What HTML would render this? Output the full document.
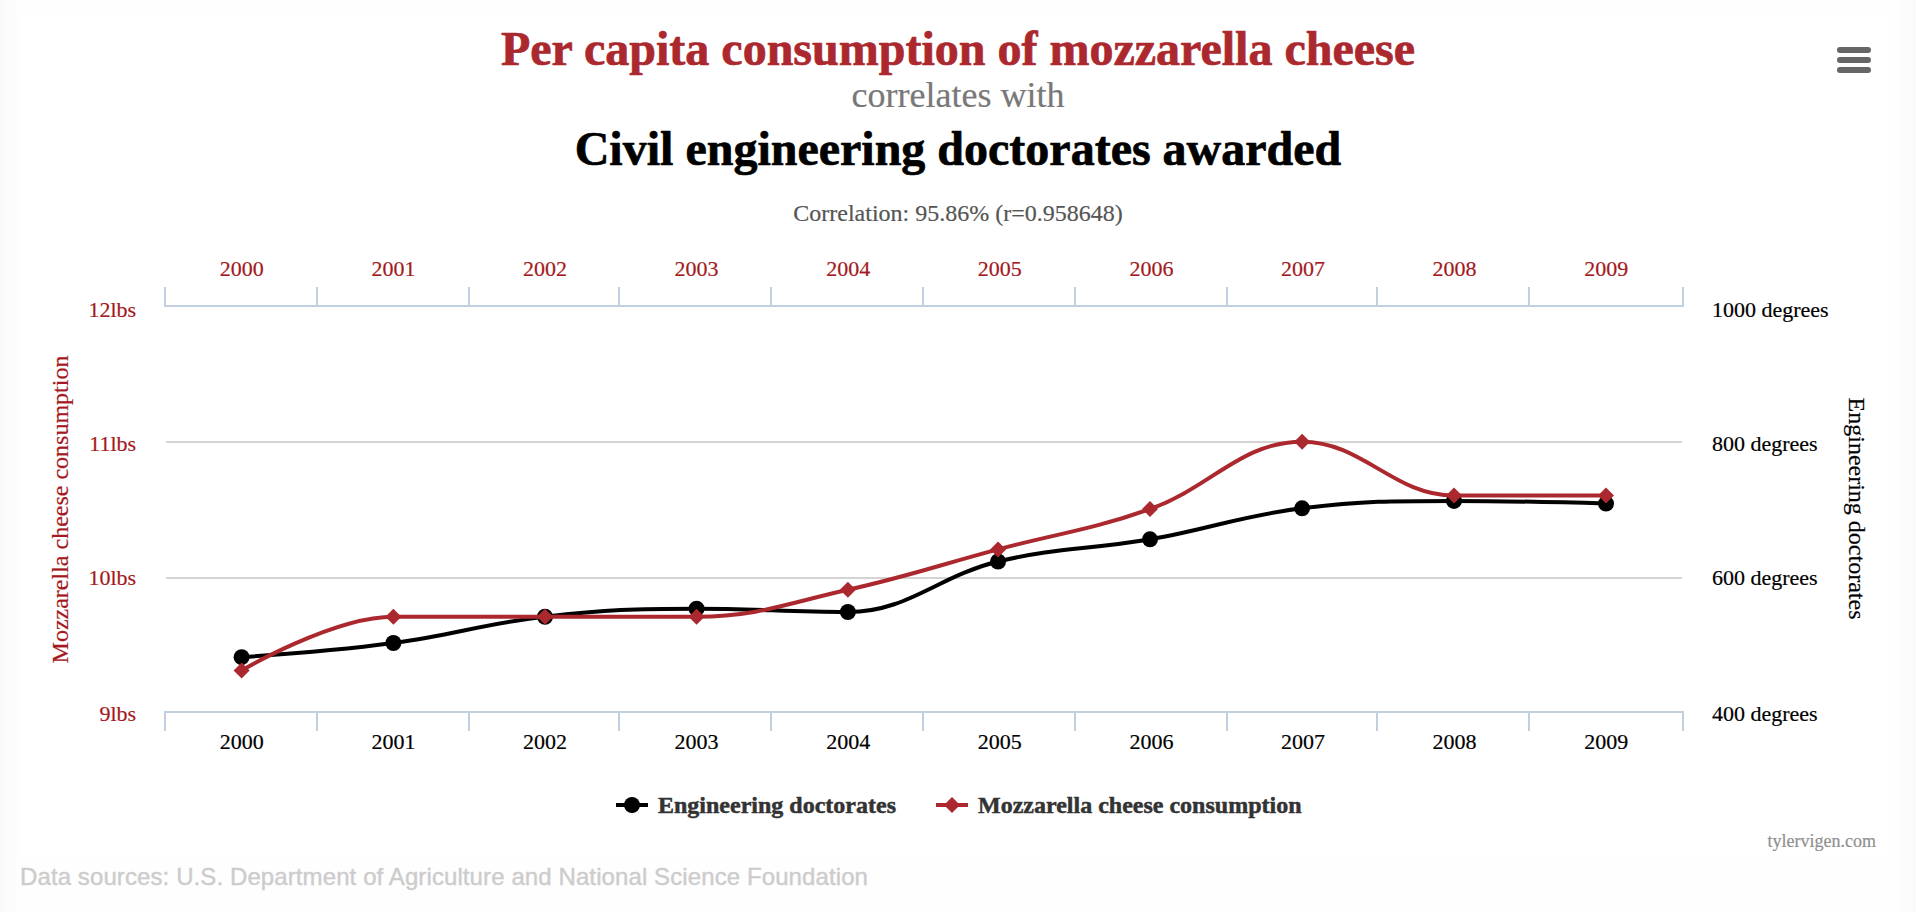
<!DOCTYPE html>
<html lang="en"><head><meta charset="utf-8"><title>Per capita consumption of mozzarella cheese correlates with Civil engineering doctorates awarded</title>
<style>
html,body{margin:0;padding:0;background:#fefefe;}
body{width:1916px;height:912px;overflow:hidden;position:relative;}
svg{position:absolute;left:0;top:0;display:block;}
text{font-family:"Liberation Serif","Times New Roman",Times,serif;stroke-linejoin:round;}
.b{stroke-width:0.7px;}
.b2{stroke-width:0.5px;}
text,g{stroke-width:0.2px;}
.sans{font-family:"Liberation Sans",Arial,Helvetica,sans-serif;stroke-width:0.4px;}
</style></head><body>
<svg width="1916" height="912" viewBox="0 0 1916 912">
<rect x="0" y="0" width="1916" height="912" fill="#FEFEFE"/>
<rect x="0" y="0" width="15" height="912" fill="#FCFCFC"/>
<rect x="0" y="0" width="4" height="912" fill="#FAFAFA"/>
<rect x="1901" y="0" width="15" height="912" fill="#FCFCFC"/>
<rect x="1912" y="0" width="4" height="912" fill="#FAFAFA"/>
<rect x="20" y="16.5" width="1873" height="840.5" fill="#FFFFFF"/>
<text x="958" y="65" text-anchor="middle" class="b" font-size="48" font-weight="bold" fill="#AB282E" stroke="#AB282E">Per capita consumption of mozzarella cheese</text>
<text x="958" y="107" text-anchor="middle" font-size="36" fill="#787878" stroke="#787878">correlates with</text>
<text x="958" y="165" text-anchor="middle" class="b" font-size="48" font-weight="bold" fill="#000000" stroke="#000000">Civil engineering doctorates awarded</text>
<text x="958" y="220.5" text-anchor="middle" font-size="24" fill="#555555" stroke="#555555">Correlation: 95.86% (r=0.958648)</text>
<g fill="#D4D4D4">
<rect x="166" y="441" width="1516" height="2"/>
<rect x="166" y="577" width="1516" height="2"/>
</g>
<g fill="#C0D0E0">
<rect x="164" y="305" width="1520" height="2"/>
<rect x="164" y="711" width="1520" height="2"/>
<rect x="164" y="287" width="2" height="20"/>
<rect x="164" y="711" width="2" height="20"/>
<rect x="316" y="287" width="2" height="20"/>
<rect x="316" y="711" width="2" height="20"/>
<rect x="468" y="287" width="2" height="20"/>
<rect x="468" y="711" width="2" height="20"/>
<rect x="618" y="287" width="2" height="20"/>
<rect x="618" y="711" width="2" height="20"/>
<rect x="770" y="287" width="2" height="20"/>
<rect x="770" y="711" width="2" height="20"/>
<rect x="922" y="287" width="2" height="20"/>
<rect x="922" y="711" width="2" height="20"/>
<rect x="1074" y="287" width="2" height="20"/>
<rect x="1074" y="711" width="2" height="20"/>
<rect x="1226" y="287" width="2" height="20"/>
<rect x="1226" y="711" width="2" height="20"/>
<rect x="1376" y="287" width="2" height="20"/>
<rect x="1376" y="711" width="2" height="20"/>
<rect x="1528" y="287" width="2" height="20"/>
<rect x="1528" y="711" width="2" height="20"/>
<rect x="1682" y="287" width="2" height="20"/>
<rect x="1682" y="711" width="2" height="20"/>
</g>
<g font-size="22" text-anchor="middle">
<text x="241.8" y="276.2" fill="#A41921" stroke="#A41921">2000</text>
<text x="393.4" y="276.2" fill="#A41921" stroke="#A41921">2001</text>
<text x="545.0" y="276.2" fill="#A41921" stroke="#A41921">2002</text>
<text x="696.6" y="276.2" fill="#A41921" stroke="#A41921">2003</text>
<text x="848.2" y="276.2" fill="#A41921" stroke="#A41921">2004</text>
<text x="999.8" y="276.2" fill="#A41921" stroke="#A41921">2005</text>
<text x="1151.4" y="276.2" fill="#A41921" stroke="#A41921">2006</text>
<text x="1303.0" y="276.2" fill="#A41921" stroke="#A41921">2007</text>
<text x="1454.6" y="276.2" fill="#A41921" stroke="#A41921">2008</text>
<text x="1606.2" y="276.2" fill="#A41921" stroke="#A41921">2009</text>
<text x="241.8" y="748.6" fill="#000000" stroke="#000000">2000</text>
<text x="393.4" y="748.6" fill="#000000" stroke="#000000">2001</text>
<text x="545.0" y="748.6" fill="#000000" stroke="#000000">2002</text>
<text x="696.6" y="748.6" fill="#000000" stroke="#000000">2003</text>
<text x="848.2" y="748.6" fill="#000000" stroke="#000000">2004</text>
<text x="999.8" y="748.6" fill="#000000" stroke="#000000">2005</text>
<text x="1151.4" y="748.6" fill="#000000" stroke="#000000">2006</text>
<text x="1303.0" y="748.6" fill="#000000" stroke="#000000">2007</text>
<text x="1454.6" y="748.6" fill="#000000" stroke="#000000">2008</text>
<text x="1606.2" y="748.6" fill="#000000" stroke="#000000">2009</text>
</g>
<g font-size="22" text-anchor="end" fill="#A41921" stroke="#A41921">
<text x="136.2" y="316.5">12lbs</text>
<text x="136.2" y="450.5">11lbs</text>
<text x="136.2" y="584.5">10lbs</text>
<text x="136.2" y="720.5">9lbs</text>
</g>
<g font-size="22" text-anchor="start" fill="#000000" stroke="#000000">
<text x="1712" y="316.5">1000 degrees</text>
<text x="1712" y="450.5">800 degrees</text>
<text x="1712" y="584.5">600 degrees</text>
<text x="1712" y="720.5">400 degrees</text>
</g>
<text transform="translate(67.8,509.5) rotate(-90)" text-anchor="middle" font-size="24" fill="#A41921" stroke="#A41921">Mozzarella cheese consumption</text>
<text transform="translate(1849,508.5) rotate(90)" text-anchor="middle" font-size="24" fill="#000000" stroke="#000000">Engineering doctorates</text>
<path d="M 241.60 657.13 C 241.60 657.13 332.68 651.08 393.40 642.99 C 454.04 634.92 484.36 623.60 545.00 616.73 C 605.62 609.87 635.93 608.65 696.55 608.65 C 757.09 608.65 787.36 612.02 847.90 612.02 C 907.96 612.02 937.99 575.98 998.05 561.52 C 1058.83 546.89 1089.22 549.93 1150.00 539.30 C 1210.84 528.66 1241.26 515.73 1302.10 508.33 C 1362.86 500.92 1393.24 500.92 1454.00 500.92 C 1514.80 500.92 1606.00 503.61 1606.00 503.61" fill="none" stroke="#000000" stroke-width="4" stroke-linejoin="round" stroke-linecap="round"/>
<g fill="#000000">
<circle cx="241.60" cy="657.13" r="8"/>
<circle cx="393.40" cy="642.99" r="8"/>
<circle cx="545.00" cy="616.73" r="8"/>
<circle cx="696.55" cy="608.65" r="8"/>
<circle cx="847.90" cy="612.02" r="8"/>
<circle cx="998.05" cy="561.52" r="8"/>
<circle cx="1150.00" cy="539.30" r="8"/>
<circle cx="1302.10" cy="508.33" r="8"/>
<circle cx="1454.00" cy="500.92" r="8"/>
<circle cx="1606.00" cy="503.61" r="8"/>
</g>
<path d="M 241.60 670.60 C 241.60 670.60 332.68 616.73 393.40 616.73 C 454.04 616.73 484.36 616.73 545.00 616.73 C 605.62 616.73 635.93 616.73 696.55 616.73 C 757.09 616.73 787.36 603.32 847.90 589.80 C 907.96 576.39 937.99 565.46 998.05 549.40 C 1058.83 533.14 1089.22 530.54 1150.00 509.00 C 1210.84 487.44 1241.26 441.67 1302.10 441.67 C 1362.86 441.67 1393.24 495.53 1454.00 495.53 C 1514.80 495.53 1606.00 495.53 1606.00 495.53" fill="none" stroke="#AB282E" stroke-width="4" stroke-linejoin="round" stroke-linecap="round"/>
<g fill="#AB282E">
<path d="M 241.60 662.60 L 249.60 670.60 L 241.60 678.60 L 233.60 670.60 Z"/>
<path d="M 393.40 608.73 L 401.40 616.73 L 393.40 624.73 L 385.40 616.73 Z"/>
<path d="M 545.00 608.73 L 553.00 616.73 L 545.00 624.73 L 537.00 616.73 Z"/>
<path d="M 696.55 608.73 L 704.55 616.73 L 696.55 624.73 L 688.55 616.73 Z"/>
<path d="M 847.90 581.80 L 855.90 589.80 L 847.90 597.80 L 839.90 589.80 Z"/>
<path d="M 998.05 541.40 L 1006.05 549.40 L 998.05 557.40 L 990.05 549.40 Z"/>
<path d="M 1150.00 501.00 L 1158.00 509.00 L 1150.00 517.00 L 1142.00 509.00 Z"/>
<path d="M 1302.10 433.67 L 1310.10 441.67 L 1302.10 449.67 L 1294.10 441.67 Z"/>
<path d="M 1454.00 487.53 L 1462.00 495.53 L 1454.00 503.53 L 1446.00 495.53 Z"/>
<path d="M 1606.00 487.53 L 1614.00 495.53 L 1606.00 503.53 L 1598.00 495.53 Z"/>
</g>
<path d="M 616 805 L 648 805" stroke="#000000" stroke-width="4" fill="none"/>
<circle cx="632" cy="805" r="8" fill="#000000"/>
<text x="658" y="813" class="b2" font-size="24" font-weight="bold" fill="#333333" stroke="#333333">Engineering doctorates</text>
<path d="M 936 805 L 968 805" stroke="#AB282E" stroke-width="4" fill="none"/>
<path d="M 952 797 L 960 805 L 952 813 L 944 805 Z" fill="#AB282E"/>
<text x="978" y="813" class="b2" font-size="24" font-weight="bold" fill="#333333" stroke="#333333">Mozzarella cheese consumption</text>
<path d="M 1840 50 L 1868 50 M 1840 60 L 1868 60 M 1840 70 L 1868 70" stroke="#666666" stroke-width="6" stroke-linecap="round" fill="none"/>
<text x="1876" y="847" text-anchor="end" font-size="18" fill="#909090" stroke="#909090">tylervigen.com</text>
<text class="sans" x="20" y="885" font-size="24" fill="#CCCCCC" stroke="#CCCCCC" letter-spacing="0.1">Data sources: U.S. Department of Agriculture and National Science Foundation</text>
</svg>
</body></html>
